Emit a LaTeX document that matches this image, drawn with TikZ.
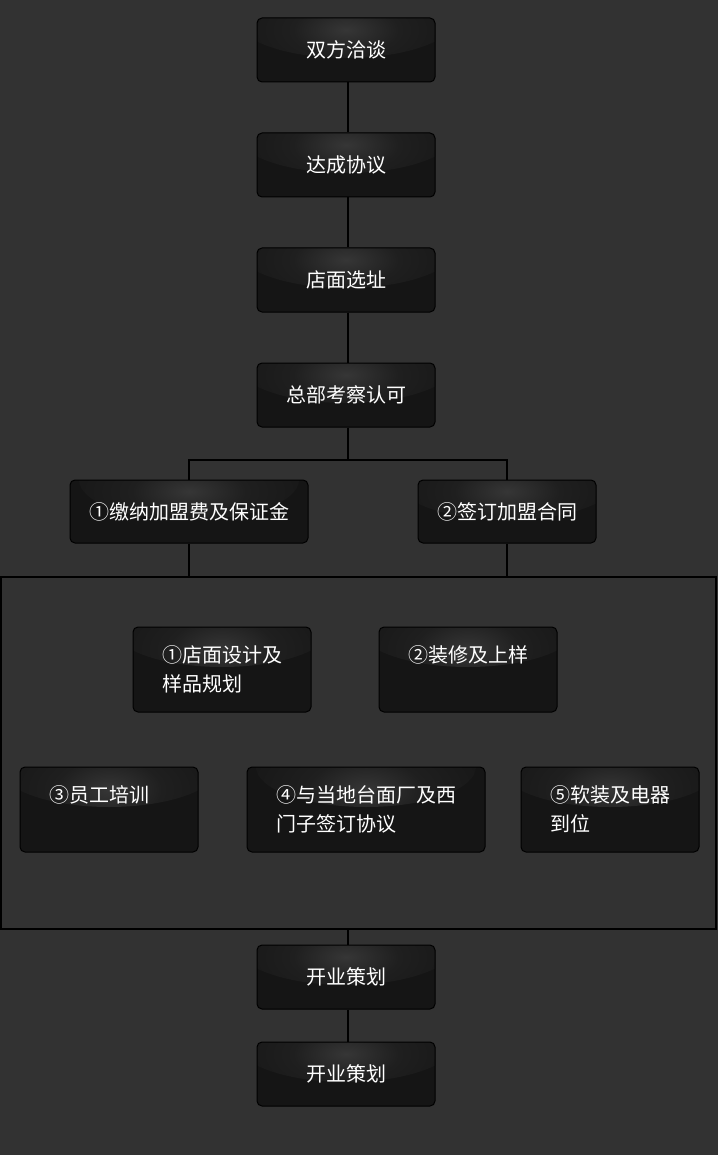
\documentclass[tikz,border=0pt]{standalone}
\usepackage{fontspec}
\setmainfont{Noto Sans CJK SC}
\definecolor{bggray}{HTML}{323232}
\definecolor{boxdark}{HTML}{151515}
\definecolor{boxmid}{HTML}{1f1f1f}
\definecolor{boxglow}{HTML}{363636}
\pgfdeclareradialshading{topglow}{\pgfpoint{0bp}{0bp}}{color(0bp)=(boxglow); color(12bp)=(boxmid); color(30bp)=(boxdark); color(50bp)=(boxdark)}
\tikzset{
  stepbox/.style={draw=black, line width=1pt, rounded corners=5pt, fill=boxdark, text=white,
    minimum width=178pt, minimum height=64pt, inner sep=0pt, font=\fontsize{20}{29}\selectfont,
    path picture={\shade[shading=topglow] (path picture bounding box.north) ellipse (110pt and 40pt);}},
  taskbox/.style={stepbox, minimum height=85pt, inner xsep=29pt, align=left, text width=#1},
  taskbox/.default=120pt,
  link/.style={draw=black, line width=1.6pt}
}
\begin{document}
\begin{tikzpicture}[x=1pt,y=-1pt]
\fill[bggray] (0,0) rectangle (718,1155);
\useasboundingbox (0,0) rectangle (718,1155);

%TOP CHAIN
\node[stepbox] (talk) at (346,50) {双方洽谈};
\node[stepbox] (agree) at (346,165) {达成协议};
\node[stepbox] (site) at (346,280) {店面选址};
\node[stepbox] (check) at (346,395) {总部考察认可};
\coordinate (split) at (348,460);

%BRANCHES
\node[stepbox, minimum width=238pt, minimum height=63pt] (fee) at (189,511.5) {①缴纳加盟费及保证金};
\node[stepbox, minimum height=63pt] (sign) at (507,511.5) {②签订加盟合同};

%PREPARATION FRAME
\node[draw=black, line width=1.6pt, minimum width=715pt, minimum height=352pt, inner sep=0pt] (stage) at (358.5,753) {};
\node[taskbox] (design) at (222,669.5) {①店面设计及\\样品规划};
\node[taskbox] (decor) at (468,669.5) {②装修及上样\\\phantom{到}};
\node[taskbox] (train) at (109,809.5) {③员工培训\\\phantom{到}};
\node[taskbox=180pt] (deal) at (366,809.5) {④与当地台面厂及西\\门子签订协议};
\node[taskbox] (soft) at (610,809.5) {⑤软装及电器\\到位};

%OPENING
\node[stepbox] (open) at (346,977) {开业策划};
\node[stepbox] (openb) at (346,1074) {开业策划};

\draw[link] (talk.south -| split) -- (agree.north -| split);
\draw[link] (agree.south -| split) -- (site.north -| split);
\draw[link] (site.south -| split) -- (check.north -| split);
\draw[link] (check.south -| split) -- (split);
\draw[link] (fee.north) |- (split) -| (sign.north);
\draw[link] (fee.south) -- (fee.south |- stage.north);
\draw[link] (sign.south) -- (sign.south |- stage.north);
\draw[link] (stage.south -| split) -- (open.north -| split);
\draw[link] (open.south -| split) -- (openb.north -| split);
\end{tikzpicture}
\end{document}
